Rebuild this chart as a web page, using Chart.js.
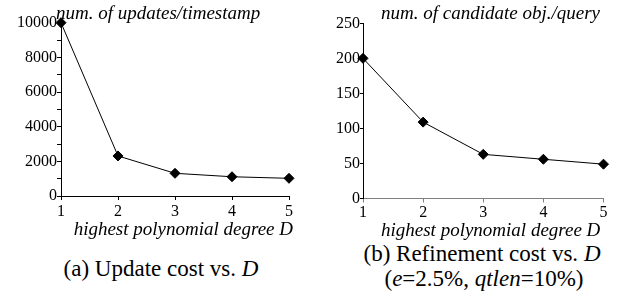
<!DOCTYPE html>
<html lang="en">
<head>
<meta charset="UTF-8"/>
<title>Update and refinement cost vs. D</title>
<script src="https://cdn.jsdelivr.net/npm/chart.js"></script>
<style>
  body { margin: 0; background: #fff; font-family: "Liberation Serif", Tinos, "Times New Roman", "DejaVu Serif", serif; }
  #page { position: relative; width: 623px; height: 300px; overflow: hidden; }
  canvas { position: absolute; top: 0; }
  #updChart { left: 0; }
  #refChart { left: 310px; }
  .lbl { position: absolute; white-space: nowrap; color: #000; }
  .ax { font-style: italic; font-size: 19px; line-height: 20px; }
  .cap { font-size: 23px; line-height: 25px; text-align: center; width: 300px; }
</style>
</head>
<body>
<div id="page">
  <canvas id="updChart" width="310" height="240"></canvas>
  <canvas id="refChart" width="313" height="240"></canvas>

  <div class="lbl ax" style="left:56px; top:3px;">num. of updates/timestamp</div>
  <div class="lbl ax" style="left:381px; top:3px;">num. of candidate obj./query</div>
  <div class="lbl ax" style="right:330px; top:219px;">highest polynomial degree D</div>
  <div class="lbl ax" style="left:381px; top:220px;">highest polynomial degree D</div>

  <div class="lbl cap" style="left:11px; top:256px;">(a) Update cost vs. <i>D</i></div>
  <div class="lbl cap" style="left:332px; top:241px;">(b) Refinement cost vs. <i>D</i></div>
  <div class="lbl cap" style="left:334px; top:266px;">(<i>e</i>=2.5%, <i>qtlen</i>=10%)</div>
</div>
<script>
  // highest polynomial degree D
  const degrees = ['1', '2', '3', '4', '5'];
  // (a) num. of updates per timestamp
  const updates = [10000, 2310, 1310, 1110, 1020];
  // (b) num. of candidate objects per query
  const candidates = [200, 109, 63, 56, 49];

  const tickFont = { family: "'Liberation Serif', Tinos, 'Times New Roman', 'DejaVu Serif', serif", size: 16 };

  function makeChart(id, values, y, x, pad) {
    new Chart(document.getElementById(id), {
      type: 'line',
      data: {
        labels: degrees,
        datasets: [{
          data: values,
          borderColor: '#000',
          borderWidth: 1,
          tension: 0,
          pointStyle: 'rectRot',
          pointRadius: 5,
          pointBackgroundColor: '#000',
          pointBorderColor: '#000',
          pointBorderWidth: 1,
          clip: false
        }]
      },
      options: {
        responsive: false,
        animation: false,
        layout: { padding: pad },
        plugins: { legend: { display: false }, tooltip: { enabled: false } },
        scales: {
          x: {
            offset: false,
            grid: { drawOnChartArea: false, tickLength: 4, color: x.color },
            border: { color: x.color, width: 1 },
            ticks: { font: tickFont, color: '#000', padding: x.padding, autoSkip: false, maxRotation: 0 },
            afterFit: s => { s.height = x.height; }
          },
          y: {
            min: 0, max: y.max,
            grid: { drawOnChartArea: false, tickLength: y.tick, color: '#000' },
            border: { color: '#000', width: 1 },
            ticks: {
              stepSize: y.step, font: tickFont, color: '#000', padding: y.padding, autoSkip: false,
              callback: v => (v % y.every === 0 ? v : '')
            },
            afterFit: s => { s.width = y.width; }
          }
        }
      }
    });
  }

  makeChart('updChart', updates,
    { max: 10000, step: 1000, every: 2000, tick: 4, padding: 0, width: 61 },
    { color: '#000', padding: 2, height: 44 },
    { top: 22.7, right: 21, left: 0, bottom: 0 });

  makeChart('refChart', candidates,
    { max: 250, step: 50, every: 50, tick: 3, padding: 0, width: 53 },
    { color: '#808080', padding: 1, height: 41.5 },
    { top: 23.3, right: 19.5, left: 0, bottom: 0 });
</script>
</body>
</html>
